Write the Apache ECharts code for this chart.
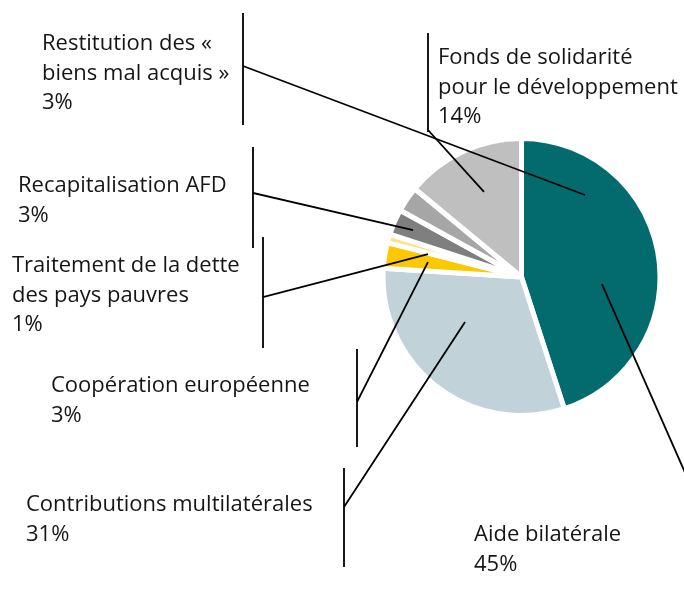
<!DOCTYPE html>
<html lang="fr">
<head>
    <meta charset="UTF-8">
    <title>Répartition de l'aide</title>
    <script src="https://cdn.jsdelivr.net/npm/echarts@6/dist/echarts.min.js"></script>
    <style>
        html, body { margin: 0; padding: 0; background: #fff; }
        #main { width: 684px; height: 599px; }
    </style>
</head>
<body>
<div id="main"></div>
<script>
    // données (en % du total)
    var categories = [
        'Aide bilatérale',
        'Contributions multilatérales',
        'Coopération européenne',
        'Traitement de la dette\ndes pays pauvres',
        'Recapitalisation AFD',
        'Restitution des «\nbiens mal acquis »',
        'Fonds de solidarité\npour le développement'
    ];
    var shares = [45, 31, 3, 1, 3, 3, 14];
    var colors = ['#036b6d', '#c1d3d9', '#fcc800', '#fde28a', '#7f7f7f', '#a6a6a6', '#bfbfbf'];

    // mise en page des étiquettes : coin haut-gauche du texte
    var labelPos = [[474, 520], [26, 490], [51, 371], [12, 251], [18, 171], [42, 29], [438, 43]];
    // barre verticale à côté de chaque étiquette : [x, haut, bas, y du raccord]
    var labelBars = [[720, 505, 600, 552], [344, 468, 567, 507], [357, 349, 447, 402],
        [263, 237, 348, 297], [253, 147, 248, 193], [243, 13, 125, 66], [428, 33, 132, 130]];
    // point d'accroche dans la part : [décalage d'angle en degrés, fraction du rayon]
    var anchors = [[14, 0.583], [13.7, 0.521], [0, 0.684], [-2.4, 0.695], [0, 0.853], [93.6, 0.749], [1.4, 0.671]];

    var myChart = echarts.init(document.getElementById('main'));

    var PIE_CENTER = [521.5, 277];
    var PIE_RADIUS = 138.5;

    function anchorPoint(seriesIndex, idx) {
        var layout = myChart.getModel().getSeriesByIndex(seriesIndex).getData().getItemLayout(idx);
        var mid = (layout.startAngle + layout.endAngle) / 2 + anchors[idx][0] * Math.PI / 180;
        var r = layout.r * anchors[idx][1];
        return [layout.cx + r * Math.cos(mid), layout.cy + r * Math.sin(mid)];
    }

    var option = {
        animation: false,
        backgroundColor: '#fff',
        series: [
            {
                // les parts
                type: 'pie',
                z: 2,
                center: PIE_CENTER,
                radius: PIE_RADIUS,
                startAngle: 90,
                clockwise: true,
                data: categories.map(function (name, i) {
                    return { name: name, value: shares[i], itemStyle: { color: colors[i] } };
                }),
                itemStyle: { borderColor: '#fff', borderWidth: 5 },
                label: { show: false },
                labelLine: { show: false },
                emphasis: { disabled: true }
            },
            {
                // même camembert, transparent, qui porte les étiquettes et les traits par-dessus
                type: 'pie',
                z: 3,
                center: PIE_CENTER,
                radius: PIE_RADIUS,
                startAngle: 90,
                clockwise: true,
                avoidLabelOverlap: false,
                data: categories.map(function (name, i) {
                    return { name: name, value: shares[i] };
                }),
                itemStyle: { color: 'rgba(0,0,0,0)', borderWidth: 0 },
                label: {
                    position: 'outside',
                    formatter: '{b}\n{c}%',
                    fontFamily: '"Open Sans", sans-serif',
                    fontSize: 22,
                    lineHeight: 29.5,
                    color: '#161616',
                    width: 340,
                    overflow: 'none'
                },
                labelLine: {
                    show: true,
                    lineStyle: { color: '#000', width: 1.8 }
                },
                labelLayout: function (params) {
                    var i = params.dataIndex;
                    var bar = labelBars[i];
                    return {
                        x: labelPos[i][0],
                        y: labelPos[i][1],
                        align: 'left',
                        verticalAlign: 'top',
                        labelLinePoints: [anchorPoint(params.seriesIndex, i), [bar[0], bar[3]], [bar[0], bar[1]], [bar[0], bar[2]]]
                    };
                },
                emphasis: { disabled: true }
            }
        ]
    };

    myChart.setOption(option);
</script>
</body>
</html>
